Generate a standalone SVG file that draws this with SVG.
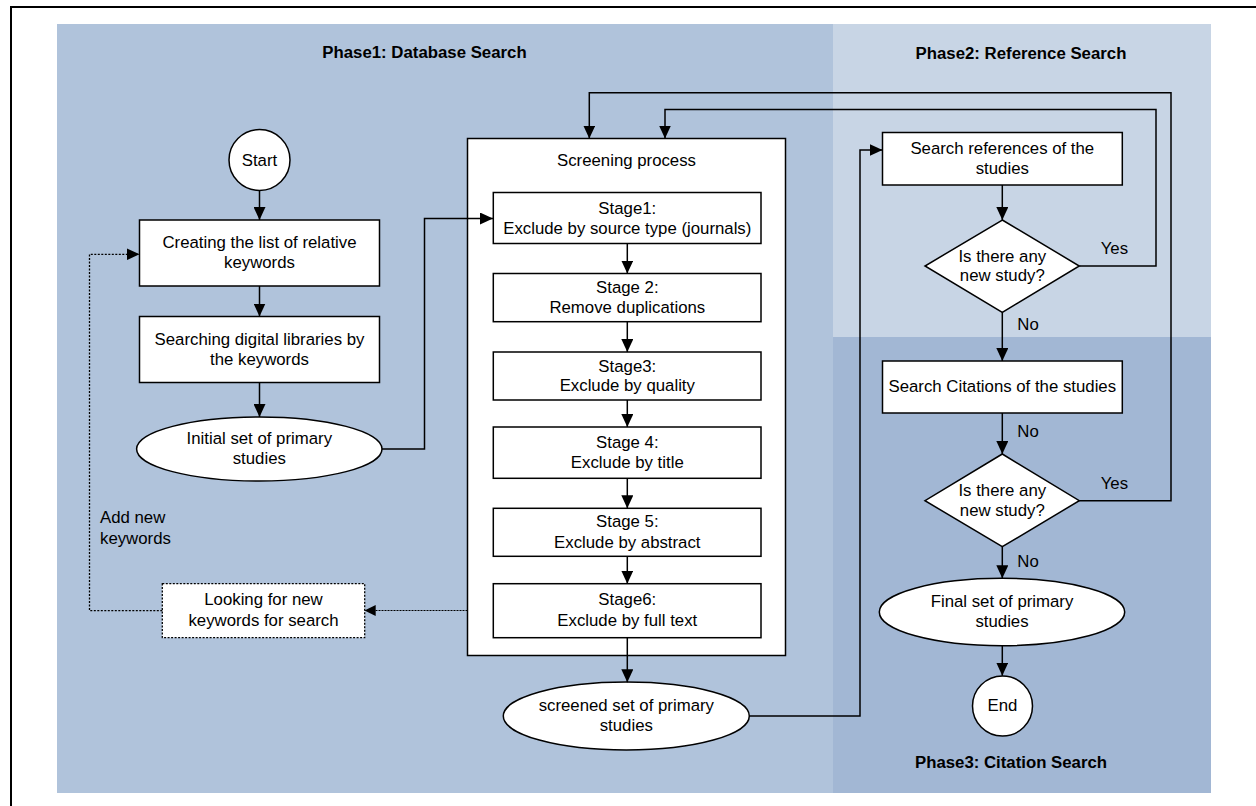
<svg xmlns="http://www.w3.org/2000/svg" width="1256" height="806" viewBox="0 0 1256 806">
<style>
text{font-family:"Liberation Sans",Arial,sans-serif;font-size:16.8px;fill:#000;text-anchor:middle}
.title{font-weight:bold}
.node{fill:#fff;stroke:#000;stroke-width:1.5}
.dotnode{fill:#fff;stroke:#000;stroke-width:1.3;stroke-dasharray:2,1.5}
.conn{fill:none;stroke:#000;stroke-width:1.5}
.dot{fill:none;stroke:#000;stroke-width:1.3;stroke-dasharray:2,1.5}
.thin{fill:none;stroke:#000;stroke-width:1;stroke-dasharray:2,1}
.lbl{text-anchor:start}
</style>
<defs>
<marker id="ah" markerWidth="13" markerHeight="12" refX="13" refY="6" orient="auto" markerUnits="userSpaceOnUse">
<path d="M0,0 L13,6 L0,12 z" fill="#000"/>
</marker>
<marker id="ahs" markerWidth="11" markerHeight="11" refX="11" refY="5.5" orient="auto" markerUnits="userSpaceOnUse">
<path d="M0,0 L11,5.5 L0,11 z" fill="#000"/>
</marker>
</defs>
<rect width="1256" height="806" fill="#fff"/>
<path d="M11,806 V7 H1256" fill="none" stroke="#000" stroke-width="2"/>
<g id="phases">
<rect x="57" y="24" width="776" height="769" fill="#B0C3DB"/>
<rect x="833" y="24" width="378" height="313" fill="#C8D5E5"/>
<rect x="833" y="337" width="378" height="456" fill="#A2B7D4"/>
<text class="title" x="424.5" y="58">Phase1: Database Search</text>
<text class="title" x="1021" y="59">Phase2: Reference Search</text>
<text class="title" x="1011" y="768">Phase3: Citation Search</text>
</g>
<g id="start">
<circle class="node" cx="259.5" cy="160" r="30.5"/>
<text x="259.5" y="165.5">Start</text>
</g>
<g id="create-list">
<rect class="node" x="139.5" y="220" width="240" height="66"/>
<text x="259.5" y="248">Creating the list of relative</text>
<text x="259.5" y="268">keywords</text>
</g>
<g id="search-libraries">
<rect class="node" x="139.5" y="316.5" width="240" height="66"/>
<text x="259.5" y="345">Searching digital libraries by</text>
<text x="259.5" y="365">the keywords</text>
</g>
<g id="initial-set">
<ellipse class="node" cx="259.3" cy="449" rx="122.7" ry="32"/>
<text x="259.3" y="444">Initial set of primary</text>
<text x="259.3" y="464.3">studies</text>
</g>
<g id="looking-keywords">
<rect class="dotnode" x="162.3" y="583.7" width="202.4" height="54"/>
<text x="263.5" y="605">Looking for new</text>
<text x="263.5" y="625.7">keywords for search</text>
</g>
<g id="screening">
<rect class="node" x="467.5" y="138.5" width="318" height="517"/>
<text x="626.5" y="166">Screening process</text>
</g>
<g id="stage1">
<rect class="node" x="493.3" y="192.5" width="267.7" height="51"/>
<text x="627.3" y="213.5">Stage1:</text>
<text x="627.3" y="233.5">Exclude by source type (journals)</text>
</g>
<g id="stage2">
<rect class="node" x="493.3" y="273.5" width="267.7" height="48.2"/>
<text x="627.3" y="293.3">Stage 2:</text>
<text x="627.3" y="313">Remove duplications</text>
</g>
<g id="stage3">
<rect class="node" x="493.3" y="352" width="267.7" height="48"/>
<text x="627.3" y="371.5">Stage3:</text>
<text x="627.3" y="391.2">Exclude by quality</text>
</g>
<g id="stage4">
<rect class="node" x="493.3" y="427" width="267.7" height="51.3"/>
<text x="627.3" y="448">Stage 4:</text>
<text x="627.3" y="468">Exclude by title</text>
</g>
<g id="stage5">
<rect class="node" x="493.3" y="508.3" width="267.7" height="48"/>
<text x="627.3" y="527.2">Stage 5:</text>
<text x="627.3" y="547.5">Exclude by abstract</text>
</g>
<g id="stage6">
<rect class="node" x="493.3" y="583.7" width="267.7" height="54"/>
<text x="627.3" y="605.3">Stage6:</text>
<text x="627.3" y="625.8">Exclude by full text</text>
</g>
<g id="screened-set">
<ellipse class="node" cx="626.3" cy="716" rx="123" ry="34"/>
<text x="626.3" y="710.7">screened set of primary</text>
<text x="626.3" y="730.7">studies</text>
</g>
<g id="search-references">
<rect class="node" x="882.5" y="132.5" width="239.8" height="52.5"/>
<text x="1002.3" y="154.3">Search references of the</text>
<text x="1002.3" y="174">studies</text>
</g>
<g id="decision1">
<polygon class="node" points="1002.3,220 1079.3,266 1002.3,312.3 925,266"/>
<text x="1002.3" y="261.7">Is there any</text>
<text x="1002.3" y="281">new study?</text>
</g>
<g id="search-citations">
<rect class="node" x="882.5" y="361" width="239.8" height="52"/>
<text x="1002.3" y="391.7">Search Citations of the studies</text>
</g>
<g id="decision2">
<polygon class="node" points="1002.3,454 1079.3,500.7 1002.3,546.7 925,500.7"/>
<text x="1002.3" y="495.7">Is there any</text>
<text x="1002.3" y="515.7">new study?</text>
</g>
<g id="final-set">
<ellipse class="node" cx="1002" cy="612" rx="122.7" ry="33.7"/>
<text x="1002" y="606.7">Final set of primary</text>
<text x="1002" y="627.3">studies</text>
</g>
<g id="end">
<circle class="node" cx="1002.5" cy="706" r="30"/>
<text x="1002.5" y="711">End</text>
</g>
<g id="connectors">
<path class="conn" d="M259.5,190.5 V220" marker-end="url(#ah)"/>
<path class="conn" d="M259.5,286 V316.5" marker-end="url(#ah)"/>
<path class="conn" d="M259.5,382.5 V417" marker-end="url(#ah)"/>
<path class="conn" d="M382,449 H424.5 V218.5 H493" marker-end="url(#ah)"/>
<path class="conn" d="M627.3,243.5 V273.5" marker-end="url(#ah)"/>
<path class="conn" d="M627.3,321.7 V352" marker-end="url(#ah)"/>
<path class="conn" d="M627.3,400 V427" marker-end="url(#ah)"/>
<path class="conn" d="M627.3,478.3 V508.3" marker-end="url(#ah)"/>
<path class="conn" d="M627.3,556.3 V583.7" marker-end="url(#ah)"/>
<path class="conn" d="M627.3,637.7 V682.3" marker-end="url(#ah)"/>
<path class="conn" d="M749.3,716 H860 V150 H882.5" marker-end="url(#ah)"/>
<path class="conn" d="M1002.3,185 V220" marker-end="url(#ah)"/>
<path class="conn" d="M1079.3,266 H1156 V109.5 H665 V138.5" marker-end="url(#ah)"/>
<path class="conn" d="M1002.3,312.3 V361" marker-end="url(#ah)"/>
<path class="conn" d="M1002.3,413 V454" marker-end="url(#ah)"/>
<path class="conn" d="M1079.3,500.7 H1171 V92.7 H589.3 V138.5" marker-end="url(#ah)"/>
<path class="conn" d="M1002.3,546.7 V578.3" marker-end="url(#ah)"/>
<path class="conn" d="M1002.3,645.7 V675.7" marker-end="url(#ah)"/>
<path class="dot" d="M162.3,610.7 H89.5 V254.3 H139.5" marker-end="url(#ah)"/>
<path class="thin" d="M467.5,610.5 H364.7" marker-end="url(#ahs)"/>
<text class="lbl" x="100" y="523.3">Add new</text>
<text class="lbl" x="100" y="544.3">keywords</text>
<text class="lbl" x="1100.7" y="254">Yes</text>
<text class="lbl" x="1017.3" y="330">No</text>
<text class="lbl" x="1017.3" y="436.7">No</text>
<text class="lbl" x="1100.7" y="489">Yes</text>
<text class="lbl" x="1017.3" y="566.7">No</text>
</g>
</svg>
